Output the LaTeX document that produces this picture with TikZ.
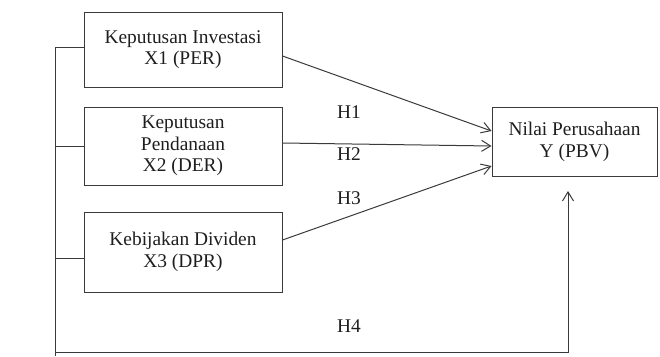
\documentclass[tikz,border=0pt]{standalone}
\usepackage{fontspec}
\setmainfont{Liberation Serif}
\usetikzlibrary{arrows.meta,calc}
\definecolor{lc}{HTML}{3A3A3A}
\definecolor{tc}{HTML}{1E1E1E}
\tikzset{
  varbox/.style={draw=lc, line width=1pt, minimum width=198pt, align=center, text=tc,
    font=\fontsize{19.4}{21.7}\selectfont, inner sep=0pt},
  conn/.style={draw=lc, line width=1pt},
  arr/.style={conn, -{Straight Barb[length=9pt,width=11pt,line width=1pt]}},
  hlab/.style={text=tc, font=\fontsize{19.4}{21.7}\selectfont, inner sep=0pt}
}
\begin{document}
\begin{tikzpicture}[x=1pt,y=-1pt]
\useasboundingbox (0,0) rectangle (660,356);
\node[varbox, minimum height=75pt] (b1) at (183,49.5) {Keputusan Investasi\\X1 (PER)};
\node[varbox, minimum height=78pt] (b2) at (183,146) {Keputusan\\Pendanaan\\X2 (DER)};
\node[varbox, minimum height=80pt] (b3) at (183,252) {Kebijakan Dividen\\X3 (DPR)};
\node[varbox, minimum width=165pt, minimum height=69pt] (y) at (574.5,141.5) {Nilai Perusahaan\\Y (PBV)};

\coordinate (top) at (55,47);
\coordinate (bot) at (55,356);
\coordinate (bl) at (55,352.5);
\coordinate (br) at (568,352.5);
\coordinate (up) at (568,191);

\draw[conn] ($(b1.west)+(0,-2.5)$) -- (top) -- (bot);
\draw[conn] (bl) -- (br);
\draw[conn] (b2.west) -- (b2.west -| bl);
\draw[conn] ($(b3.west)+(0,6)$) -- ($(b3.west -| bl)+(0,6)$);
\draw[arr] (br) -- (up);

\draw[arr] ($(b1.east)+(0,6.5)$) -- ($(y.west)+(0,-10.5)$);
\draw[arr] ($(b2.east)+(0,-3)$) -- ($(y.west)+(0,4.5)$);
\draw[arr] ($(b3.east)+(0,-12)$) -- ($(y.west)+(0,24.5)$);

\node[hlab, anchor=west] (h1) at (337,112) {H1};
\node[hlab, anchor=west] (h2) at (337,154) {H2};
\node[hlab, anchor=west] (h3) at (337,198) {H3};
\node[hlab, anchor=west] (h4) at (337,326) {H4};
\end{tikzpicture}
\end{document}
